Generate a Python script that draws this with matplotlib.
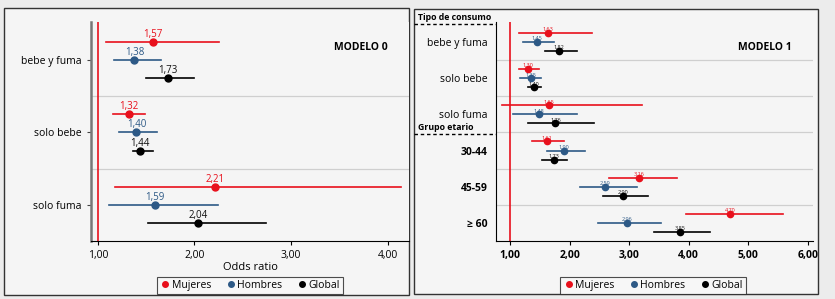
import matplotlib
matplotlib.use("Agg")
import matplotlib.pyplot as plt
from matplotlib.patches import Rectangle
from matplotlib.lines import Line2D

plt.rcParams['font.family'] = ['Open Sans', 'DejaVu Sans']

# ---- data: odds ratio with 95% CI (Mujeres, Hombres, Global) ----
m0_cats = ["bebe y fuma", "solo bebe", "solo fuma"]
m0_or = [[1.57, 1.38, 1.73],
         [1.32, 1.40, 1.44],
         [2.21, 1.59, 2.04]]
m0_lo = [[1.09, 1.17, 1.50],
         [1.16, 1.22, 1.36],
         [1.18, 1.12, 1.52]]
m0_hi = [[2.25, 1.65, 2.00],
         [1.49, 1.61, 1.57],
         [4.14, 2.24, 2.74]]

m1_cats = ["bebe y fuma", "solo bebe", "solo fuma", "30-44", "45-59", "≥ 60"]
m1_or = [[1.63, 1.45, 1.82],
         [1.30, 1.35, 1.40],
         [1.65, 1.48, 1.76],
         [1.61, 1.90, 1.73],
         [3.16, 2.59, 2.90],
         [4.70, 2.96, 3.85]]
m1_lo = [[1.14, 1.22, 1.58],
         [1.14, 1.17, 1.29],
         [0.86, 1.05, 1.30],
         [1.37, 1.61, 1.54],
         [2.66, 2.17, 2.56],
         [3.96, 2.48, 3.41]]
m1_hi = [[2.38, 1.73, 2.12],
         [1.49, 1.51, 1.51],
         [3.21, 2.12, 2.41],
         [1.90, 2.26, 1.95],
         [3.80, 3.13, 3.31],
         [5.59, 3.53, 4.35]]

groups = ["Mujeres", "Hombres", "Global"]
colors = ["#e8101c", "#2d5986", "#000000"]
offsets = [-0.25, 0.0, 0.25]


def fmt(v):
    return f"{v:.2f}".replace(".", ",")


def draw_panel(ax, cats, ors, los, his, lab_size, ms, lab_off):
    for i in range(len(cats)):
        for g in range(3):
            y = i + offsets[g]
            ax.plot([los[i][g], his[i][g]], [y, y], color=colors[g], lw=1.2, zorder=3)
            ax.plot(ors[i][g], y, 'o', color=colors[g], ms=ms, zorder=4)
            ax.annotate(fmt(ors[i][g]), (ors[i][g], y), xytext=(0, lab_off),
                        textcoords='offset points', ha='center', va='bottom',
                        fontsize=lab_size, color=colors[g] if g < 2 else '#111111')
    for k in range(1, len(cats)):
        ax.axhline(k - 0.5, color='#cfcfcf', lw=0.9, zorder=1)
    ax.axvline(1.0, color=colors[0], lw=1.2, zorder=2)
    ax.set_yticks(range(len(cats)))
    ax.set_yticklabels(cats)
    ax.set_facecolor('#f5f5f5')
    ax.spines['top'].set_visible(False)
    ax.spines['right'].set_visible(False)


fig = plt.figure(figsize=(8.35, 2.99), dpi=100)
fig.patch.set_facecolor('#ececec')

# panel frames
for x0, y0, x1, y1 in [(4, 8, 409, 295), (414, 9, 818, 294)]:
    fig.patches.append(Rectangle((x0 / 835, 1 - y1 / 299), (x1 - x0) / 835, (y1 - y0) / 299,
                                 transform=fig.transFigure, facecolor='#f5f5f5',
                                 edgecolor='#333333', lw=1.0, zorder=-1))

# ---- MODELO 0 ----
ax0 = fig.add_axes([91 / 835, 1 - 241 / 299, 318 / 835, 219 / 299])
draw_panel(ax0, m0_cats, m0_or, m0_lo, m0_hi, 7, 5, 1.5)
ax0.set_xlim(0.93, 4.22)
ax0.set_ylim(2.497, -0.524)
ax0.set_xticks([1, 2, 3, 4])
ax0.set_xticklabels([fmt(v) for v in [1, 2, 3, 4]], fontsize=7.5)
ax0.tick_params(axis='y', labelsize=7.5, length=3, color='#444444')
ax0.tick_params(axis='x', length=3)
ax0.spines['left'].set_color('#777777')
ax0.spines['left'].set_linewidth(1.8)
ax0.set_xlabel("Odds ratio", fontsize=8, labelpad=1)
ax0.text(0.932, 0.885, "MODELO 0", transform=ax0.transAxes, ha='right', va='center',
         fontsize=7.5, fontweight='bold')

# ---- MODELO 1 ----
ax1 = fig.add_axes([496 / 835, 1 - 241 / 299, 317 / 835, 219 / 299])
draw_panel(ax1, m1_cats, m1_or, m1_lo, m1_hi, 4, 4.5, 0.6)
ax1.set_xlim(0.76, 6.09)
ax1.set_ylim(5.5, -0.55)
ax1.set_xticks([1, 2, 3, 4, 5, 6])
ax1.set_xticklabels([fmt(v) for v in [1, 2, 3, 4, 5, 6]], fontsize=7.5, fontweight='bold')
ax1.tick_params(axis='y', labelsize=7.5, length=0, pad=6)
ax1.tick_params(axis='x', length=3)
for lab in ax1.get_yticklabels()[3:]:
    lab.set_fontweight('bold')
ax1.text(0.934, 0.885, "MODELO 1", transform=ax1.transAxes, ha='right', va='center',
         fontsize=7.5, fontweight='bold')

# section headers with dashed rules left of the axis
for ytxt, yline, label in [(18, 24, "Tipo de consumo"), (128, 134, "Grupo etario")]:
    fig.add_artist(Line2D([414 / 835, 496 / 835], [1 - yline / 299, 1 - yline / 299],
                          transform=fig.transFigure, color='black', lw=1.0, ls=(0, (2.5, 2))))
    fig.text(418 / 835, 1 - ytxt / 299, label, fontsize=6.3, fontweight='bold',
             ha='left', va='center')

# legends
handles = [Line2D([], [], marker='o', ls='', color=c, ms=4) for c in colors]
for cx in [250 / 835, 653 / 835]:
    leg = fig.legend(handles, groups, loc='center', bbox_to_anchor=(cx, 1 - 285.5 / 299),
                     ncol=3, fontsize=7.5, frameon=True, fancybox=False,
                     handletextpad=0.1, columnspacing=1.4, borderpad=0.3,
                     handlelength=1.0)
    leg.get_frame().set_edgecolor('#222222')
    leg.get_frame().set_facecolor('#f8f8f8')
    leg.get_frame().set_linewidth(0.8)

fig.savefig("out.png", dpi=100, facecolor=fig.get_facecolor())
